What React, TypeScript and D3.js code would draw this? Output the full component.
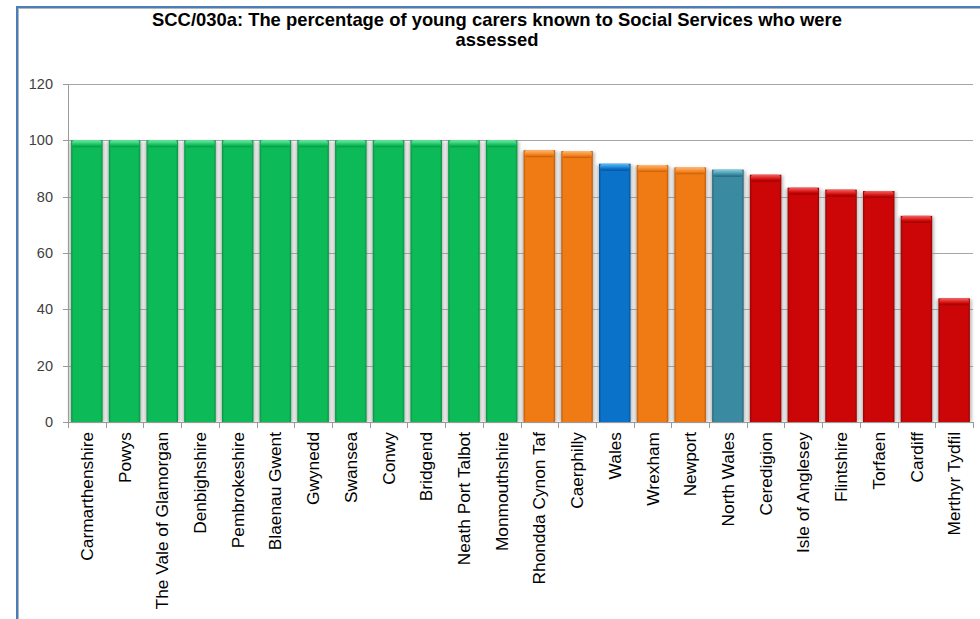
import React from "react";
import * as d3 from "d3";

const categories = [
  "Carmarthenshire", "Powys", "The Vale of Glamorgan", "Denbighshire", "Pembrokeshire",
  "Blaenau Gwent", "Gwynedd", "Swansea", "Conwy", "Bridgend", "Neath Port Talbot",
  "Monmouthshire", "Rhondda Cynon Taf", "Caerphilly", "Wales", "Wrexham", "Newport",
  "North Wales", "Ceredigion", "Isle of Anglesey", "Flintshire", "Torfaen", "Cardiff",
  "Merthyr Tydfil",
];
const values = [
  100, 100, 100, 100, 100, 100, 100, 100, 100, 100, 100, 100,
  96.5, 96.2, 91.7, 91.2, 90.4, 89.6, 87.8, 83.2, 82.5, 82.0, 73.2, 43.9,
];
const groups = [
  "green", "green", "green", "green", "green", "green", "green", "green", "green", "green", "green", "green",
  "orange", "orange", "blue", "orange", "orange", "teal", "red", "red", "red", "red", "red", "red",
];
const yTicks = [0, 20, 40, 60, 80, 100, 120];
const titleLines = [
  "SCC/030a: The percentage of young carers known to Social Services who were",
  "assessed",
];

const palette: Record<string, { base: string; light: string; dark: string }> = {
  green: { base: "#0cba58", light: "#6aeca3", dark: "#07923f" },
  orange: { base: "#f07b15", light: "#ffb874", dark: "#c05a06" },
  blue: { base: "#0b72c9", light: "#5cbcf6", dark: "#065094" },
  teal: { base: "#3a8ba2", light: "#88cede", dark: "#276477" },
  red: { base: "#cc0606", light: "#f76060", dark: "#960303" },
};

const FONT = "'Liberation Sans', Arial, Helvetica, sans-serif";

export default function App() {
  const W = 980, H = 619;
  const left = 68, right = 973, top = 84, bottom = 422;

  const x = d3.scaleBand<string>().domain(categories).range([left, right])
    .paddingInner(0.165).paddingOuter(0.0825);
  const y = d3.scaleLinear().domain([0, 120]).range([bottom, top]);
  const step = x.step();
  const bw = x.bandwidth();

  return (
    <svg width={W} height={H} style={{ position: "absolute", left: 0, top: 0, background: "#fff" }}
      fontFamily={FONT}>
      <defs>
        <filter id="shadow" x="-30%" y="-5%" width="160%" height="110%">
          <feGaussianBlur stdDeviation="1.6" />
        </filter>
        {Object.entries(palette).map(([k, c]) => (
          <React.Fragment key={k}>
            <linearGradient id={`h-${k}`} x1="0" x2="1" y1="0" y2="0">
              <stop offset="0" stopColor={c.dark} />
              <stop offset="0.07" stopColor={c.base} />
              <stop offset="0.93" stopColor={c.base} />
              <stop offset="1" stopColor={c.dark} />
            </linearGradient>
            <linearGradient id={`t-${k}`} x1="0" x2="0" y1="0" y2="1">
              <stop offset="0" stopColor={c.light} />
              <stop offset="0.7" stopColor={c.base} />
              <stop offset="1" stopColor={c.dark} />
            </linearGradient>
          </React.Fragment>
        ))}
      </defs>

      {/* frame */}
      <rect x={17} y={7} width={W + 20} height={H + 20} fill="none" stroke="#4a7ebb" strokeWidth={2} />
      <rect x={18.5} y={8.5} width={W + 20} height={H + 20} fill="none" stroke="#b5b5b5" strokeWidth={1} />

      {/* title */}
      {titleLines.map((t, i) => (
        <text key={i} x={497} y={26 + i * 19.5} textAnchor="middle" fontWeight="bold" fontSize={18.4} fill="#000">
          {t}
        </text>
      ))}

      {/* gridlines */}
      {yTicks.map((t) => (
        <g key={t}>
          {t > 0 && (
            <line x1={left} x2={right} y1={Math.round(y(t)) + 0.5} y2={Math.round(y(t)) + 0.5} stroke="#a6a6a6" strokeWidth={1} />
          )}
          <line x1={left - 5} x2={left} y1={Math.round(y(t)) + 0.5} y2={Math.round(y(t)) + 0.5} stroke="#9a9a9a" />
          <text x={left - 15} y={y(t)} dy="0.35em" textAnchor="end" fontSize={14.5} fill="#404040">
            {t}
          </text>
        </g>
      ))}

      {/* bars */}
      {categories.map((c, i) => {
        const g = groups[i];
        const bx = x(c)!;
        const by = y(values[i]);
        const bh = bottom - by;
        return (
          <g key={c}>
            <rect x={bx - 2} y={by + 1} width={bw + 4} height={bh - 1} fill="#8c8c8c" opacity={0.55} filter="url(#shadow)" />
            <rect x={bx} y={by} width={bw} height={bh} fill={`url(#h-${g})`} />
            <rect x={bx + 1} y={by} width={bw - 2} height={Math.min(7, bh)} rx={2.5} fill={`url(#t-${g})`} />
          </g>
        );
      })}

      {/* axes */}
      <line x1={left + 0.5} x2={left + 0.5} y1={top} y2={bottom} stroke="#9a9a9a" />
      <line x1={left} x2={right} y1={bottom + 0.5} y2={bottom + 0.5} stroke="#9a9a9a" />
      {d3.range(categories.length + 1).map((i) => {
        const tx = Math.round(left + i * step) + 0.5;
        return <line key={i} x1={tx} x2={tx} y1={bottom} y2={bottom + 6} stroke="#9a9a9a" />;
      })}

      {/* x labels */}
      {categories.map((c) => {
        const cx = x(c)! + bw / 2;
        const ty = bottom + 10;
        return (
          <text key={c} transform={`translate(${cx},${ty}) rotate(-90)`} textAnchor="end" dy="0.35em"
            fontSize={17.3} fill="#000">
            {c}
          </text>
        );
      })}
    </svg>
  );
}
